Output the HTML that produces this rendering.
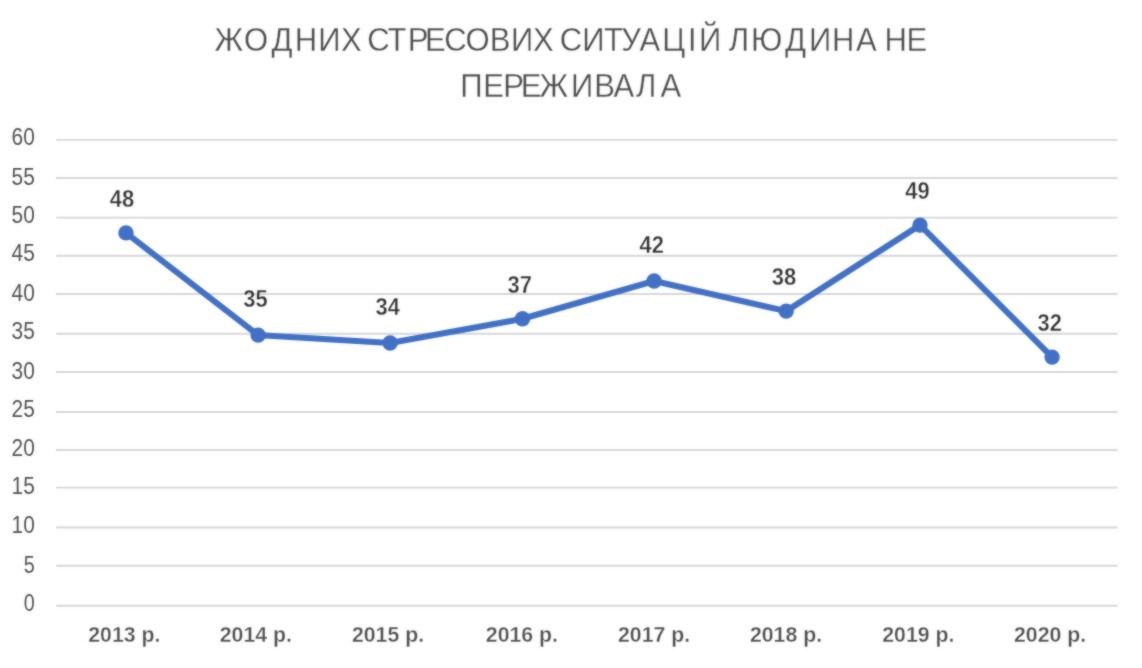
<!DOCTYPE html>
<html lang="uk"><head><meta charset="utf-8"><title>Жодних стресових ситуацій людина не переживала</title>
<style>
html,body{margin:0;padding:0;background:#fff;}
body{width:1142px;height:668px;overflow:hidden;font-family:"Liberation Sans",sans-serif;}
svg{display:block;}
.t{font-family:"Liberation Sans",sans-serif;}
.title{font-size:33.4px;fill:#4c4c4c;stroke:#fff;stroke-width:0.3px;}
.ax{font-size:23px;fill:#505050;}
.cat{font-size:22px;font-weight:bold;fill:#4c4c4c;stroke:#fff;stroke-width:0.35px;}
.dl{font-size:23.2px;font-weight:bold;fill:#303030;stroke:#fff;stroke-width:0.35px;}
</style></head><body>
<svg width="1142" height="668" viewBox="0 0 1142 668">
<rect width="1142" height="668" fill="#ffffff"/>
<defs><filter id="soft" color-interpolation-filters="sRGB" x="0" y="0" width="1142" height="668" filterUnits="userSpaceOnUse"><feGaussianBlur stdDeviation="0.8" result="b"/><feComposite in="SourceGraphic" in2="b" operator="arithmetic" k1="0" k2="0.5" k3="0.5" k4="0"/></filter></defs>
<g filter="url(#soft)">

<g stroke="#d6d6d6" stroke-width="1.95">
<line x1="56.1" x2="1117.5" y1="139.85" y2="139.85"/>
<line x1="56.1" x2="1117.5" y1="178.00" y2="178.00"/>
<line x1="56.1" x2="1117.5" y1="217.60" y2="217.60"/>
<line x1="56.1" x2="1117.5" y1="255.80" y2="255.80"/>
<line x1="56.1" x2="1117.5" y1="293.90" y2="293.90"/>
<line x1="56.1" x2="1117.5" y1="333.70" y2="333.70"/>
<line x1="56.1" x2="1117.5" y1="371.90" y2="371.90"/>
<line x1="56.1" x2="1117.5" y1="411.95" y2="411.95"/>
<line x1="56.1" x2="1117.5" y1="449.90" y2="449.90"/>
<line x1="56.1" x2="1117.5" y1="487.60" y2="487.60"/>
<line x1="56.1" x2="1117.5" y1="527.40" y2="527.40"/>
<line x1="56.1" x2="1117.5" y1="565.80" y2="565.80"/>
<line x1="56.1" x2="1117.5" y1="605.80" y2="605.80"/>
</g>
<g class="t title">
<text transform="scale(0.93 1)" y="50.9" x="230.71 262.50 291.89 317.07 342.24 366.79 389.25 394.77 416.80 438.37 457.08 477.67 500.67 526.65 549.34 573.14 595.70 601.81 626.22 649.48 668.05 687.73 712.18 739.77 751.71 774.19 783.70 807.61 844.04 869.88 894.71 920.53 944.09 951.21 974.82">ЖОДНИХ СТРЕСОВИХ СИТУАЦІЙ ЛЮДИНА НЕ</text>
<text transform="scale(0.93 1)" y="96.8" x="494.90 519.61 541.22 559.98 580.06 613.96 638.86 659.78 683.75 710.31">ПЕРЕЖИВАЛА</text>
</g>
<g class="t ax" text-anchor="end">
<text x="34.8" y="145.0" textLength="23.2" lengthAdjust="spacingAndGlyphs">60</text>
<text x="34.8" y="184.7" textLength="23.2" lengthAdjust="spacingAndGlyphs">55</text>
<text x="34.8" y="222.8" textLength="23.2" lengthAdjust="spacingAndGlyphs">50</text>
<text x="34.8" y="260.7" textLength="23.2" lengthAdjust="spacingAndGlyphs">45</text>
<text x="34.8" y="300.5" textLength="23.2" lengthAdjust="spacingAndGlyphs">40</text>
<text x="34.8" y="338.5" textLength="23.2" lengthAdjust="spacingAndGlyphs">35</text>
<text x="34.8" y="378.6" textLength="23.2" lengthAdjust="spacingAndGlyphs">30</text>
<text x="34.8" y="416.6" textLength="23.2" lengthAdjust="spacingAndGlyphs">25</text>
<text x="34.8" y="456.4" textLength="23.2" lengthAdjust="spacingAndGlyphs">20</text>
<text x="34.8" y="494.4" textLength="23.2" lengthAdjust="spacingAndGlyphs">15</text>
<text x="34.8" y="532.8" textLength="23.2" lengthAdjust="spacingAndGlyphs">10</text>
<text x="34.8" y="572.8" textLength="11.0" lengthAdjust="spacingAndGlyphs">5</text>
<text x="34.8" y="610.8" textLength="11.0" lengthAdjust="spacingAndGlyphs">0</text>
</g>
<g class="t cat" text-anchor="middle">
<text x="124.35" y="642.0" textLength="72.2" lengthAdjust="spacingAndGlyphs">2013 р.</text>
<text x="255.85" y="642.0" textLength="72.2" lengthAdjust="spacingAndGlyphs">2014 р.</text>
<text x="388.05" y="642.0" textLength="72.2" lengthAdjust="spacingAndGlyphs">2015 р.</text>
<text x="521.90" y="642.0" textLength="72.2" lengthAdjust="spacingAndGlyphs">2016 р.</text>
<text x="654.10" y="642.0" textLength="72.2" lengthAdjust="spacingAndGlyphs">2017 р.</text>
<text x="786.00" y="642.0" textLength="72.2" lengthAdjust="spacingAndGlyphs">2018 р.</text>
<text x="918.35" y="642.0" textLength="72.2" lengthAdjust="spacingAndGlyphs">2019 р.</text>
<text x="1050.10" y="642.0" textLength="72.2" lengthAdjust="spacingAndGlyphs">2020 р.</text>
</g>
<polyline points="126.0,232.9 258.1,335.1 390.1,343.0 522.5,318.8 654.1,281.0 786.2,311.1 920.0,225.1 1052.1,357.1" fill="none" stroke="#4170c4" stroke-width="6.1" stroke-linejoin="round" stroke-linecap="round"/>
<g fill="#4170c4">
<circle cx="126.0" cy="232.9" r="7.7"/>
<circle cx="258.1" cy="335.1" r="7.7"/>
<circle cx="390.1" cy="343.0" r="7.7"/>
<circle cx="522.5" cy="318.8" r="7.7"/>
<circle cx="654.1" cy="281.0" r="7.7"/>
<circle cx="786.2" cy="311.1" r="7.7"/>
<circle cx="920.0" cy="225.1" r="7.7"/>
<circle cx="1052.1" cy="357.1" r="7.7"/>
</g>
<g class="t dl" text-anchor="middle">
<text x="121.95" y="206.6" textLength="24.4" lengthAdjust="spacingAndGlyphs">48</text>
<text x="255.50" y="306.5" textLength="24.4" lengthAdjust="spacingAndGlyphs">35</text>
<text x="387.70" y="314.5" textLength="24.4" lengthAdjust="spacingAndGlyphs">34</text>
<text x="519.65" y="292.8" textLength="24.4" lengthAdjust="spacingAndGlyphs">37</text>
<text x="651.80" y="252.5" textLength="24.4" lengthAdjust="spacingAndGlyphs">42</text>
<text x="784.05" y="284.8" textLength="24.4" lengthAdjust="spacingAndGlyphs">38</text>
<text x="917.50" y="198.7" textLength="24.4" lengthAdjust="spacingAndGlyphs">49</text>
<text x="1049.75" y="330.7" textLength="24.4" lengthAdjust="spacingAndGlyphs">32</text>
</g>
</g>
</svg></body></html>
